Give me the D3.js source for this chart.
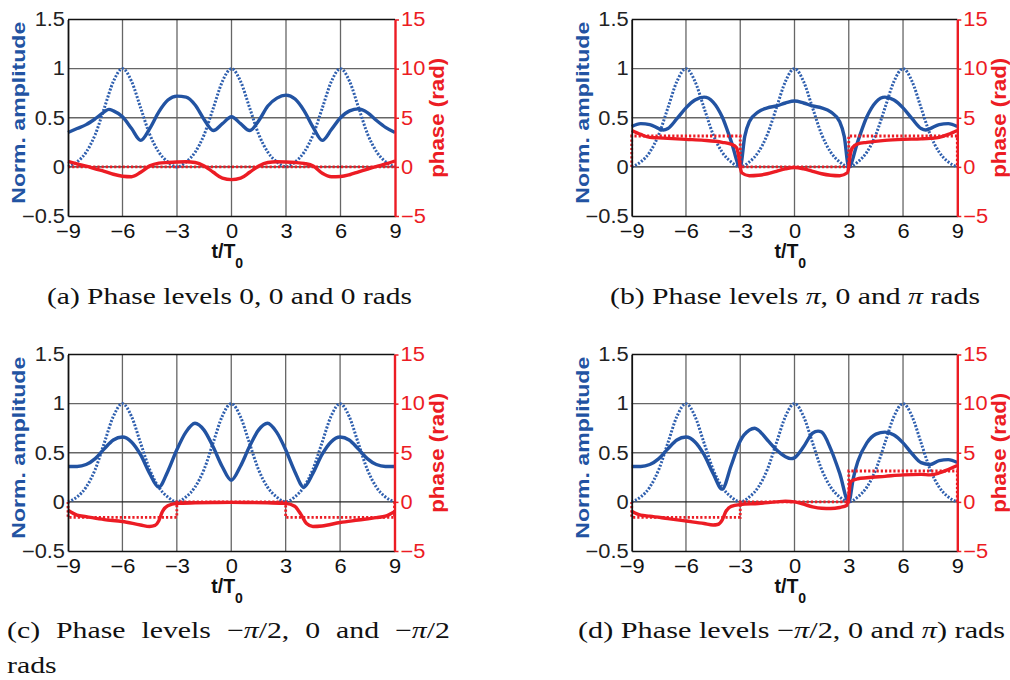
<!DOCTYPE html>
<html><head><meta charset="utf-8">
<script src="https://cdn.jsdelivr.net/npm/d3@7"></script>
<style>html,body{margin:0;padding:0;background:#fff;} svg{display:block;}</style>
</head><body>
<svg id="chart" width="1010" height="680"></svg>
<script>
// ---------- data ----------
const tTicks = [-9, -6, -3, 0, 3, 6, 9];
const tTickLabels = ["\u22129", "\u22126", "\u22123", "0", "3", "6", "9"];
const ampTicks = [-0.5, 0, 0.5, 1, 1.5];
const ampTickLabels = ["\u22120.5", "0", "0.5", "1", "1.5"];
const ampGrid = [0, 0.5, 1];
const phaseTicks = [-5, 0, 5, 10, 15];
const phaseTickLabels = ["\u22125", "0", "5", "10", "15"];

// input pulse train (dotted blue), same in all panels
const inputAmp = [[-9,0],[-8.5,0.05],[-8,0.15],[-7.5,0.33],[-7,0.6],[-6.5,0.87],[-6,1],[-5.5,0.87],[-5,0.6],[-4.5,0.33],[-4,0.15],[-3.5,0.05],[-3,0],
  [-2.5,0.05],[-2,0.15],[-1.5,0.33],[-1,0.6],[-0.5,0.87],[0,1],[0.5,0.87],[1,0.6],[1.5,0.33],[2,0.15],[2.5,0.05],[3,0],
  [3.5,0.05],[4,0.15],[4.5,0.33],[5,0.6],[5.5,0.87],[6,1],[6.5,0.87],[7,0.6],[7.5,0.33],[8,0.15],[8.5,0.05],[9,0]];

// (a)
const ampA = [[-9,0.35],[-8.5,0.39],[-8,0.43],[-7.5,0.49],[-7,0.56],[-6.75,0.585],[-6.5,0.57],[-6,0.51],[-5.5,0.39],[-5,0.27],[-4.5,0.39],[-4,0.56],[-3.5,0.68],[-3,0.72],[-2.5,0.71],[-2,0.63],[-1.5,0.48],[-1,0.37],[-0.5,0.44],[0,0.51],
  [0.5,0.44],[1,0.37],[1.5,0.47],[2,0.62],[2.5,0.70],[3,0.73],[3.5,0.69],[4,0.57],[4.5,0.40],[5,0.27],[5.5,0.38],[6,0.50],[6.5,0.57],[7,0.59],[7.5,0.55],[8,0.47],[8.5,0.40],[9,0.35]];
const phaseA = [[-9,0.55],[-8.5,0.3],[-8,0.07],[-7.5,-0.2],[-7,-0.45],[-6.5,-0.75],[-6,-0.95],[-5.5,-1.0],[-5,-0.55],[-4.5,0.1],[-4,0.38],[-3.5,0.45],[-3,0.5],[-2.5,0.52],[-2,0.45],[-1.5,0.1],[-1,-0.55],[-0.5,-1.15],[0,-1.3],
  [0.5,-1.15],[1,-0.55],[1.5,0.1],[2,0.45],[2.5,0.52],[3,0.5],[3.5,0.45],[4,0.35],[4.5,0.1],[5,-0.65],[5.5,-1.0],[6,-0.98],[6.5,-0.8],[7,-0.5],[7.5,-0.22],[8,0.05],[8.5,0.3],[9,0.6]];
const levelA = [[-9,0],[9,0]];

// (b)
const ampB = [[-9,0.41],[-8.5,0.44],[-8,0.43],[-7.5,0.39],[-7.25,0.375],[-7,0.39],[-6.5,0.49],[-6,0.6],[-5.5,0.68],[-5,0.71],[-4.5,0.66],[-4,0.51],[-3.5,0.26],[-3,0.0],[-2.75,0.31],[-2.5,0.46],[-2,0.56],[-1.5,0.6],[-1,0.62],[-0.5,0.65],[0,0.67],
  [0.5,0.65],[1,0.62],[1.5,0.6],[2,0.56],[2.5,0.46],[2.75,0.31],[3,0.0],[3.5,0.26],[4,0.51],[4.5,0.66],[5,0.71],[5.5,0.68],[6,0.6],[6.5,0.49],[7,0.39],[7.25,0.375],[7.5,0.39],[8,0.43],[8.5,0.44],[9,0.41]];
const phaseB = [[-9,3.7],[-8.5,3.3],[-8,3.0],[-7.5,2.95],[-7,2.9],[-6,2.8],[-5,2.7],[-4,2.5],[-3.5,2.3],[-3.2,1.95],[-3.08,1.0],[-3,0.0],[-2.92,-0.6],[-2.5,-0.9],[-2,-0.85],[-1.5,-0.7],[-1,-0.45],[-0.5,-0.2],[0,-0.07],
  [0.5,-0.2],[1,-0.45],[1.5,-0.7],[2,-0.85],[2.5,-0.9],[2.92,-0.6],[3,0.0],[3.08,1.2],[3.2,1.95],[3.5,2.35],[4,2.5],[5,2.7],[6,2.8],[7,2.85],[7.5,2.9],[8,3.0],[8.5,3.3],[9,3.7]];
const levelB = [[-9,0],[-9,3.1416],[-3,3.1416],[-3,0],[3,0],[3,3.1416],[9,3.1416],[9,0]];

// (c)
const ampC = [[-9,0.36],[-8.5,0.36],[-8,0.38],[-7.5,0.44],[-7,0.54],[-6.5,0.63],[-6,0.66],[-5.5,0.61],[-5,0.48],[-4.5,0.29],[-4,0.15],[-3.5,0.31],[-3,0.53],[-2.5,0.71],[-2,0.80],[-1.5,0.73],[-1,0.56],[-0.5,0.36],[0,0.22],
  [0.5,0.36],[1,0.56],[1.5,0.73],[2,0.80],[2.5,0.71],[3,0.53],[3.5,0.31],[4,0.15],[4.5,0.29],[5,0.48],[5.5,0.61],[6,0.66],[6.5,0.63],[7,0.54],[7.5,0.44],[8,0.38],[8.5,0.36],[9,0.36]];
const phaseC = [[-9,-0.85],[-8.5,-1.35],[-8,-1.5],[-7,-1.8],[-6,-2.0],[-5,-2.35],[-4.5,-2.5],[-4.2,-2.4],[-4,-1.95],[-3.8,-1.0],[-3.5,-0.4],[-3,-0.15],[-2,-0.1],[-1,-0.07],[0,-0.05],
  [1,-0.07],[2,-0.1],[3,-0.15],[3.5,-0.45],[3.85,-1.3],[4.15,-2.2],[4.5,-2.5],[5,-2.45],[6,-2.1],[7,-1.85],[8,-1.6],[8.5,-1.45],[9,-1.0]];
const levelC = [[-9,0],[-9,-1.5708],[-3,-1.5708],[-3,0],[3,0],[3,-1.5708],[9,-1.5708],[9,0]];

// (d)
const ampD = [[-9,0.36],[-8.5,0.36],[-8,0.38],[-7.5,0.44],[-7,0.54],[-6.5,0.63],[-6,0.66],[-5.5,0.61],[-5,0.48],[-4.5,0.29],[-4,0.13],[-3.5,0.37],[-3,0.62],[-2.5,0.73],[-2.2,0.75],[-2,0.73],[-1.5,0.63],[-1,0.53],[-0.5,0.46],[-0.2,0.44],[0,0.45],
  [0.5,0.56],[1,0.70],[1.3,0.72],[1.5,0.71],[2,0.54],[2.5,0.29],[3,0.0],[3.25,0.24],[3.5,0.41],[4,0.6],[4.5,0.69],[5,0.71],[5.5,0.68],[6,0.6],[6.5,0.49],[7,0.40],[7.5,0.38],[8,0.42],[8.5,0.43],[9,0.40]];
const phaseD = [[-9,-0.95],[-8.5,-1.35],[-8,-1.45],[-7,-1.7],[-6,-1.95],[-5,-2.2],[-4.5,-2.35],[-4.25,-2.3],[-4,-1.85],[-3.8,-1.0],[-3.5,-0.45],[-3,-0.27],[-2,-0.17],[-1,0.0],[-0.5,0.07],[0,0.0],
  [0.5,-0.24],[1,-0.5],[1.5,-0.65],[2,-0.68],[2.5,-0.57],[2.9,-0.35],[3,0.6],[3.1,2.05],[3.5,2.35],[4,2.45],[5,2.6],[6,2.75],[7,2.8],[7.5,2.75],[8,2.95],[8.5,3.3],[9,3.7]];
const levelD = [[-9,0],[-9,-1.5708],[-3,-1.5708],[-3,0],[3,0],[3,3.1416],[9,3.1416],[9,0]];

const captionA = ["(a) Phase levels 0, 0 and 0 rads"];
const captionB = ["(b) Phase levels \u03c0, 0 and \u03c0 rads"];
const captionC = ["(c) Phase levels \u2212\u03c0/2, 0 and \u2212\u03c0/2", "rads"];
const captionD = ["(d) Phase levels \u2212\u03c0/2, 0 and \u03c0) rads"];

const ampLabel = "Norm. amplitude";
const phaseLabel = "phase (rad)";

// ---------- drawing ----------
const BLUE = "#2253a2", BLUE_DOT = "#2f5fae", RED = "#ec1c24";
const SANS = "'Liberation Sans', Arial, Helvetica, sans-serif";
const SERIF = "'Liberation Serif', 'Times New Roman', Times, serif";
const svg = d3.select("#chart");

const panels = [
  {amp: ampA, phase: phaseA, level: levelA, L: 68,    R: 395,   T: 19.5,  B: 216},
  {amp: ampB, phase: phaseB, level: levelB, L: 631.7, R: 957.3, T: 19.5,  B: 216},
  {amp: ampC, phase: phaseC, level: levelC, L: 68,    R: 394.5, T: 354.5, B: 551},
  {amp: ampD, phase: phaseD, level: levelD, L: 631.7, R: 957.3, T: 354.5, B: 551}
];

function stretchTexts(sel, f) {
  sel.each(function() {
    const w = this.getComputedTextLength();
    d3.select(this).attr("textLength", w * f).attr("lengthAdjust", "spacingAndGlyphs");
  });
}

panels.forEach(p => {
  const x = d3.scaleLinear().domain([-9, 9]).range([p.L, p.R]);
  const y = d3.scaleLinear().domain([-0.5, 1.5]).range([p.B, p.T]);
  const yp = d3.scaleLinear().domain([-5, 15]).range([p.B, p.T]);
  const g = svg.append("g");

  // grid
  g.selectAll(".vg").data(tTicks.slice(1, -1)).enter().append("line")
    .attr("x1", d => x(d)).attr("x2", d => x(d)).attr("y1", p.T).attr("y2", p.B)
    .attr("stroke", "#666").attr("stroke-width", 1.3);
  g.selectAll(".hg").data(ampGrid).enter().append("line")
    .attr("x1", p.L).attr("x2", p.R).attr("y1", d => y(d)).attr("y2", d => y(d))
    .attr("stroke", d => d === 0 ? "#222" : "#666").attr("stroke-width", 1.3);
  // top border
  g.append("line").attr("x1", p.L).attr("x2", p.R).attr("y1", p.T).attr("y2", p.T)
    .attr("stroke", "#111").attr("stroke-width", 1.3);

  const lineA = d3.line().x(d => x(d[0])).y(d => y(d[1])).curve(d3.curveMonotoneX);
  const lineP = d3.line().x(d => x(d[0])).y(d => yp(d[1])).curve(d3.curveMonotoneX);
  const lineStep = d3.line().x(d => x(d[0])).y(d => yp(d[1])).curve(d3.curveLinear);

  g.append("path").attr("d", lineA(inputAmp)).attr("fill", "none")
    .attr("stroke", BLUE_DOT).attr("stroke-width", 3).attr("stroke-dasharray", "2,1.6");
  g.append("path").attr("d", lineA(p.amp)).attr("fill", "none")
    .attr("stroke", BLUE).attr("stroke-width", 3.4).attr("stroke-linejoin", "round");
  g.append("path").attr("d", lineStep(p.level)).attr("fill", "none")
    .attr("stroke", RED).attr("stroke-width", 2.8).attr("stroke-dasharray", "2.2,2");
  g.append("path").attr("d", lineP(p.phase)).attr("fill", "none")
    .attr("stroke", RED).attr("stroke-width", 3.4).attr("stroke-linejoin", "round");

  // axes
  const ax = g.append("g").attr("transform", `translate(0,${p.B})`)
    .call(d3.axisBottom(x).tickValues(tTicks).tickFormat((d, i) => tTickLabels[i]).tickSize(0).tickPadding(8));
  ax.select(".domain").attr("stroke", "#111").attr("stroke-width", 1.3);
  ax.selectAll("text").attr("font-family", SANS).attr("font-size", 19.5).attr("fill", "#111");
  stretchTexts(ax.selectAll("text"), 1.12);

  const ay = g.append("g").attr("transform", `translate(${p.L},0)`)
    .call(d3.axisLeft(y).tickValues(ampTicks).tickFormat((d, i) => ampTickLabels[i]).tickSize(0).tickPadding(3));
  ay.select(".domain").attr("stroke", "#111").attr("stroke-width", 1.8);
  ay.selectAll("text").attr("font-family", SANS).attr("font-size", 19.5).attr("fill", "#222");
  stretchTexts(ay.selectAll("text"), 1.12);

  const ar = g.append("g").attr("transform", `translate(${p.R},0)`)
    .call(d3.axisRight(yp).tickValues(phaseTicks).tickFormat((d, i) => phaseTickLabels[i]).tickSizeInner(4).tickSizeOuter(0).tickPadding(2));
  ar.select(".domain").attr("stroke", RED).attr("stroke-width", 2.4);
  ar.selectAll(".tick line").attr("stroke", RED).attr("stroke-width", 1.5);
  ar.selectAll("text").attr("font-family", SANS).attr("font-size", 19.5).attr("fill", RED);
  stretchTexts(ar.selectAll("text"), 1.12);

  // axis titles
  const mid = (p.T + p.B) / 2;
  g.append("text").attr("transform", `translate(${p.L - 43},${mid - 5}) rotate(-90)`)
    .attr("text-anchor", "middle").attr("font-family", SANS).attr("font-weight", "bold")
    .attr("font-size", 18.5).attr("fill", BLUE)
    .attr("textLength", 182).attr("lengthAdjust", "spacingAndGlyphs").text(ampLabel);
  g.append("text").attr("transform", `translate(${p.R + 49},${mid}) rotate(-90)`)
    .attr("text-anchor", "middle").attr("font-family", SANS).attr("font-weight", "bold")
    .attr("font-size", 19.5).attr("fill", RED)
    .attr("textLength", 120).attr("lengthAdjust", "spacingAndGlyphs").text(phaseLabel);
  const xt = g.append("text").attr("x", (p.L + p.R) / 2 - 20).attr("y", p.B + 42)
    .attr("font-family", SANS).attr("font-weight", "bold").attr("font-size", 19.5).attr("fill", "#111");
  xt.append("tspan").text("t/T");
  xt.append("tspan").attr("dy", 10).attr("font-size", 14).text("0");
});

// ---------- captions ----------
const CAP_SIZE = 23.5;
function addWords(group, str) {
  const words = str.split(" ");
  return words.map(w => {
    const t = group.append("text").attr("font-family", SERIF).attr("font-size", CAP_SIZE).attr("fill", "#111");
    w.split(/(\u03c0)/).forEach(seg => {
      if (!seg) return;
      const ts = t.append("tspan").text(seg);
      if (seg === "\u03c0") ts.attr("font-style", "italic");
    });
    return {node: t, w: t.node().getComputedTextLength()};
  });
}
const probe = svg.append("text").attr("font-family", SERIF).attr("font-size", CAP_SIZE).text("a a");
const probe2 = svg.append("text").attr("font-family", SERIF).attr("font-size", CAP_SIZE).text("aa");
const spaceW = probe.node().getComputedTextLength() - probe2.node().getComputedTextLength();
probe.remove(); probe2.remove();

function caption(str, x0, x1, yb, justify, rFixed) {
  const g = svg.append("g");
  const items = addWords(g, str);
  const sum = d3.sum(items, d => d.w);
  let r, gap;
  if (justify) {
    r = rFixed;
    gap = items.length > 1 ? ((x1 - x0) / r - sum) / (items.length - 1) : 0;
  } else {
    gap = spaceW;
    r = rFixed ? rFixed : (x1 - x0) / (sum + gap * (items.length - 1));
  }
  let cx = 0;
  items.forEach(it => { it.node.attr("x", cx).attr("y", 0); cx += it.w + gap; });
  g.attr("transform", `translate(${x0},${yb}) scale(${r},1)`);
  return r;
}
const rA = caption(captionA[0], 47, 412, 304, false);
const rB = caption(captionB[0], 610, 980, 304, false);
const rD = caption(captionD[0], 578, 1005, 638, false);
const rRef = (rA + rB + rD) / 3;
caption(captionC[0], 7, 450, 638, true, rRef);
caption(captionC[1], 7, 60, 673, false, rRef);
</script>
</body></html>
